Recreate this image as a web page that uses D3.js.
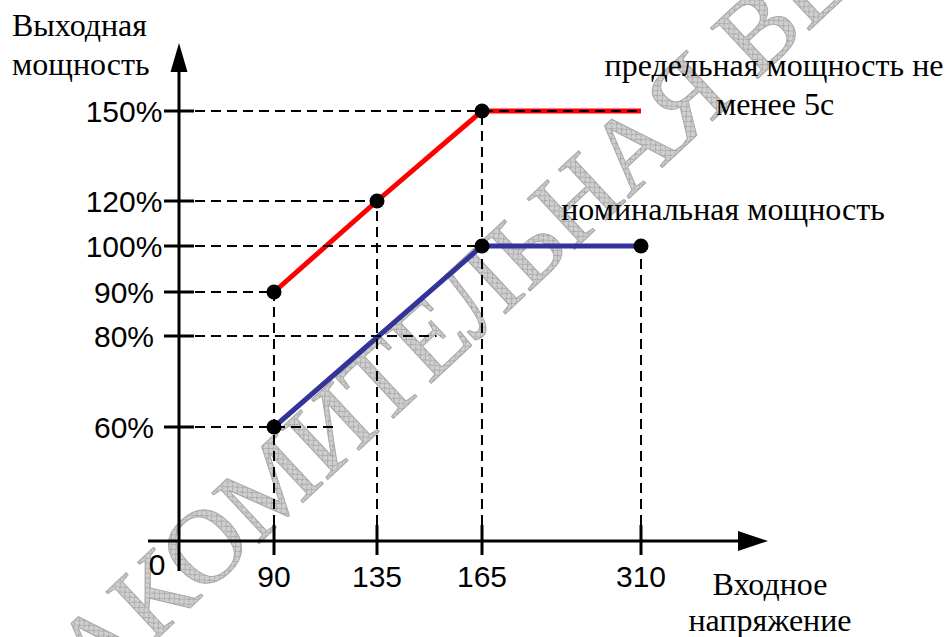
<!DOCTYPE html>
<html lang="ru">
<head>
    <meta charset="UTF-8">
    <title>Выходная мощность / входное напряжение</title>
    <script src="https://d3js.org/d3.v7.min.js"></script>
    <style>
        body { margin: 0; background: #fff; }
        svg { display: block; }
    </style>
</head>
<body>
    <div id="chart"></div>
    <script>
        // tick values on both axes
        const voltageTicks = [0, 90, 135, 165, 310];
        const powerTicks = [60, 80, 90, 100, 120, 150];

        // red line: limit power (not less than 5 s)
        const limitVoltage = [90, 135, 165, 310];
        const limitPower = [90, 120, 150, 150];

        // blue line: nominal power
        const nominalVoltage = [90, 165, 310];
        const nominalPower = [60, 100, 100];

        // dashed guide lines: horizontal (power level, end voltage) and vertical (voltage, end power)
        const hGuidePower = [150, 120, 100, 90, 80, 60];
        const hGuideEnd = [310, 135, 165, 90, 152, 116];
        const vGuideVoltage = [90, 135, 165, 310];
        const vGuideEnd = [90, 120, 150, 100];

        const limit = limitVoltage.map((v, i) => ({v: v, p: limitPower[i]}));
        const nominal = nominalVoltage.map((v, i) => ({v: v, p: nominalPower[i]}));
        const markers = limit.slice(0, 3).concat(nominal);

        const SERIF = "\"Liberation Serif\"";
        const SANS = "\"Liberation Sans\"";

        const W = 948, H = 637;
        const svg = d3.select("#chart").append("svg")
            .attr("width", W)
            .attr("height", H);

        // the drawing is not to scale, so both scales are piecewise linear through the ticks
        const x = d3.scaleLinear()
            .domain(voltageTicks)
            .range([179, 274, 377, 482, 641]);
        const y = d3.scaleLinear()
            .domain([0].concat(powerTicks))
            .range([541, 427, 336, 292, 246, 201, 111]);

        // watermark
        const defs = svg.append("defs");
        const pat = defs.append("pattern")
            .attr("id", "hatch")
            .attr("patternUnits", "userSpaceOnUse")
            .attr("width", 7).attr("height", 7);
        pat.append("rect").attr("width", 7).attr("height", 7).attr("fill", "#cfcfcf");
        pat.append("path").attr("d", "M0,0L7,7M7,0L0,7")
            .attr("stroke", "#9a9a9a").attr("stroke-width", 0.8);

        svg.append("text")
            .attr("transform", "translate(501,318) rotate(-43)")
            .attr("text-anchor", "middle")
            .style("font-family", SERIF)
            .style("font-size", "106px")
            .attr("fill", "url(#hatch)")
            .attr("stroke", "#a8a8a8")
            .attr("stroke-width", 1)
            .text("ОЗНАКОМИТЕЛЬНАЯ ВЕРСИЯ");

        const x0 = x(0), y0 = y(0);

        // lines
        const line = d3.line().x(d => x(d.v)).y(d => y(d.p));
        svg.append("path")
            .datum(limit)
            .attr("fill", "none")
            .attr("stroke", "#ff0000")
            .attr("stroke-width", 5)
            .attr("d", line);
        svg.append("path")
            .datum(nominal)
            .attr("fill", "none")
            .attr("stroke", "#333399")
            .attr("stroke-width", 5)
            .attr("d", line);

        // dashed guides
        svg.append("g").selectAll("line")
            .data(hGuidePower)
            .join("line")
            .attr("x1", x0)
            .attr("x2", (d, i) => x(hGuideEnd[i]))
            .attr("y1", d => y(d))
            .attr("y2", d => y(d))
            .attr("stroke", "#000")
            .attr("stroke-width", 2)
            .attr("stroke-dasharray", "10,6");
        svg.append("g").selectAll("line")
            .data(vGuideVoltage)
            .join("line")
            .attr("x1", d => x(d))
            .attr("x2", d => x(d))
            .attr("y1", y0)
            .attr("y2", (d, i) => y(vGuideEnd[i]))
            .attr("stroke", "#000")
            .attr("stroke-width", 2)
            .attr("stroke-dasharray", "10,6");

        // markers
        svg.append("g").selectAll("circle")
            .data(markers)
            .join("circle")
            .attr("cx", d => x(d.v))
            .attr("cy", d => y(d.p))
            .attr("r", 7.5)
            .attr("fill", "#000");

        // axes
        const axis = svg.append("g").attr("stroke", "#000").attr("stroke-width", 3);
        axis.append("line").attr("x1", 148).attr("x2", 745).attr("y1", y0).attr("y2", y0);
        axis.append("line").attr("x1", x0).attr("x2", x0).attr("y1", 571).attr("y2", 66);
        svg.append("path")
            .attr("d", `M768,${y0}L738,${y0 - 10}L738,${y0 + 10}Z`)
            .attr("fill", "#000");
        svg.append("path")
            .attr("d", `M${x0},43L${x0 - 8.5},72L${x0 + 8.5},72Z`)
            .attr("fill", "#000");

        // ticks
        axis.selectAll(".ytick")
            .data(powerTicks)
            .join("line")
            .attr("class", "ytick")
            .attr("x1", x0 - 15).attr("x2", x0 + 15)
            .attr("y1", d => y(d)).attr("y2", d => y(d));
        axis.selectAll(".xtick")
            .data(voltageTicks.slice(1))
            .join("line")
            .attr("class", "xtick")
            .attr("x1", d => x(d)).attr("x2", d => x(d))
            .attr("y1", y0 - 16).attr("y2", y0 + 14);

        // tick labels
        svg.append("g").selectAll("text")
            .data(powerTicks)
            .join("text")
            .attr("x", 124)
            .attr("y", d => y(d))
            .attr("dy", "0.36em")
            .attr("text-anchor", "middle")
            .style("font-family", SANS)
            .style("font-size", "30px")
            .text(d => d + "%");
        svg.append("g").selectAll("text")
            .data(voltageTicks)
            .join("text")
            .attr("x", d => d === 0 ? 157 : x(d))
            .attr("y", d => d === 0 ? 575 : 587)
            .attr("text-anchor", "middle")
            .style("font-family", SANS)
            .style("font-size", "30px")
            .text(d => d);

        // captions
        const cap = (t, xx, yy, anchor) => svg.append("text")
            .attr("x", xx).attr("y", yy)
            .attr("text-anchor", anchor)
            .style("font-family", SERIF)
            .style("font-size", "32px")
            .text(t);
        cap("Выходная", 12, 36, "start");
        cap("мощность", 12, 75, "start");
        cap("предельная мощность не", 774, 76, "middle");
        cap("менее 5с", 775, 115, "middle");
        cap("номинальная мощность", 723, 220, "middle");
        cap("Входное", 770, 595, "middle");
        cap("напряжение", 770, 631, "middle");
    </script>
</body>
</html>
